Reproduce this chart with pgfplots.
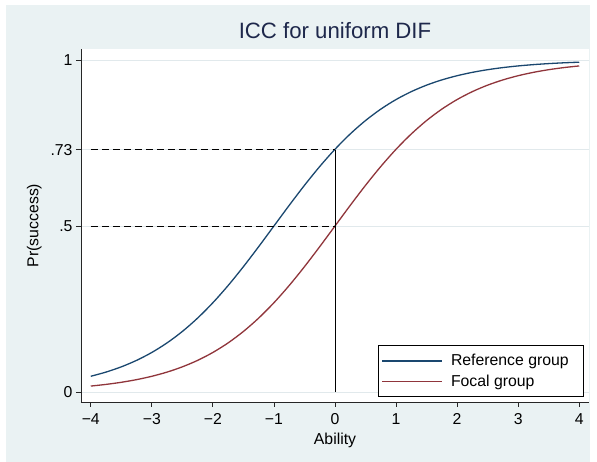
\documentclass[border=0pt]{standalone}
\usepackage{fontspec}
\setmainfont{Liberation Sans}
\usepackage{pgfplots}
\pgfplotsset{compat=1.18}
\definecolor{stnavy}{RGB}{26,71,111}
\definecolor{stmaroon}{RGB}{144,53,59}
\definecolor{stbg}{RGB}{234,242,243}
\definecolor{stgrid}{RGB}{225,233,236}
\definecolor{sttitle}{RGB}{30,40,75}
\begin{document}
\begin{tikzpicture}
\path[use as bounding box] (0pt,0pt) rectangle (597pt,462pt);
\fill[stbg] (6pt,0pt) rectangle (590pt,457pt);
\node[font=\fontsize{22.2}{26}\selectfont, text=sttitle] at (335pt,431pt) {ICC for uniform DIF};
\begin{axis}[
 at={(81pt,60pt)}, anchor=south west, scale only axis, width=508pt, height=353pt,
 xmin=-4.16, xmax=4.16, ymin=-0.030, ymax=1.033,
 axis x line*=bottom, axis y line*=left,
 axis line style={line width=0.8pt, draw=black!85, -},
 axis background/.style={fill=white},
 xtick={-4,-3,-2,-1,0,1,2,3,4}, xticklabels={−4,−3,−2,−1,0,1,2,3,4},
 ytick={0,0.5,0.73,1}, yticklabels={0,.5,.73,1},
 tick align=outside, major tick length=5pt,
 tick style={line width=0.8pt, draw=black!85},
 ymajorgrids, grid style={stgrid, line width=0.8pt},
 ticklabel style={font=\fontsize{15.8}{18}\selectfont},
 xticklabel style={yshift=-3pt},
 xlabel={Ability}, ylabel={Pr(success)},
 xlabel style={yshift=-1pt},
 ylabel style={yshift=2pt},
 label style={font=\fontsize{15.8}{18}\selectfont},
 legend style={at={(1,0)}, anchor=south east, xshift=-5pt, yshift=5pt,
   draw=black, line width=0.6pt, fill=white, font=\fontsize{15.8}{18}\selectfont,
   inner xsep=3pt, inner ysep=5pt, row sep=0pt, column sep=5pt,
   nodes={inner xsep=3pt, inner ysep=3.8pt}},
 legend cell align=left,
 legend image code/.code={\draw[#1, line width=1.3pt] (0pt,0pt) -- (60pt,0pt);},
]
\addplot[stnavy, line width=1.3pt, smooth] coordinates {
(-4,0.047426) (-3.75,0.060087) (-3.5,0.075858) (-3.25,0.095349) (-3,0.119203)
(-2.75,0.148047) (-2.5,0.182426) (-2.25,0.222700) (-2,0.268941) (-1.75,0.320821)
(-1.5,0.377541) (-1.25,0.437823) (-1,0.5) (-0.75,0.562177) (-0.5,0.622459)
(-0.25,0.679179) (0,0.731059) (0.25,0.777300) (0.5,0.817574) (0.75,0.851953)
(1,0.880797) (1.25,0.904651) (1.5,0.924142) (1.75,0.939913) (2,0.952574)
(2.25,0.962673) (2.5,0.970688) (2.75,0.977023) (3,0.982014) (3.25,0.985936)
(3.5,0.989013) (3.75,0.991423) (4,0.993307)};
\addlegendentry{Reference group\rule{9pt}{0pt}}
\addplot[stmaroon, line width=1.3pt, smooth] coordinates {
(-4,0.017986) (-3.75,0.022977) (-3.5,0.029312) (-3.25,0.037327) (-3,0.047426)
(-2.75,0.060087) (-2.5,0.075858) (-2.25,0.095349) (-2,0.119203) (-1.75,0.148047)
(-1.5,0.182426) (-1.25,0.222700) (-1,0.268941) (-0.75,0.320821) (-0.5,0.377541)
(-0.25,0.437823) (0,0.5) (0.25,0.562177) (0.5,0.622459) (0.75,0.679179)
(1,0.731059) (1.25,0.777300) (1.5,0.817574) (1.75,0.851953) (2,0.880797)
(2.25,0.904651) (2.5,0.924142) (2.75,0.939913) (3,0.952574) (3.25,0.962673)
(3.5,0.970688) (3.75,0.977023) (4,0.982014)};
\addlegendentry{Focal group}
\addplot[black, line width=0.9pt, dash pattern=on 7pt off 4pt, forget plot] coordinates {(-4,0.73) (0,0.73)};
\addplot[black, line width=0.9pt, dash pattern=on 7pt off 4pt, forget plot] coordinates {(-4,0.5) (0,0.5)};
\addplot[black, line width=0.9pt, forget plot] coordinates {(0,0) (0,0.73)};
\end{axis}
\end{tikzpicture}
\end{document}
